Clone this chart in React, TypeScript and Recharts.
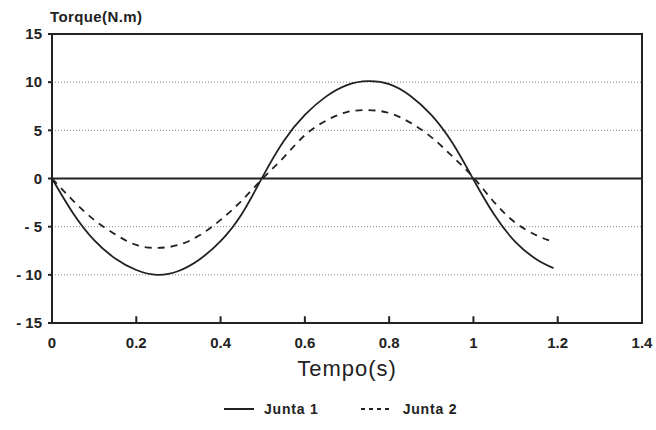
import React from 'react';
import { LineChart, Line, XAxis, YAxis, CartesianGrid, ReferenceLine, ReferenceArea } from 'recharts';

const tempo = [0, 0.05, 0.1, 0.15, 0.2, 0.25, 0.3, 0.35, 0.4, 0.45, 0.5, 0.55, 0.6, 0.65, 0.7, 0.75, 0.8, 0.85, 0.9, 0.95, 1.0, 1.05, 1.1, 1.15, 1.19];
const junta1 = [0, -3.6, -6.4, -8.3, -9.5, -10, -9.6, -8.4, -6.5, -3.7, 0.2, 3.9, 6.6, 8.5, 9.7, 10.1, 9.8, 8.6, 6.6, 3.7, -0.1, -3.8, -6.6, -8.4, -9.3];
const junta2 = [0, -2.3, -4.3, -5.8, -6.9, -7.2, -6.9, -5.9, -4.3, -2.3, 0, 2.2, 4.5, 6.0, 6.9, 7.1, 6.8, 5.8, 4.3, 2.3, 0.1, -2.5, -4.6, -5.9, -6.6];
const xTicks = [0, 0.2, 0.4, 0.6, 0.8, 1, 1.2, 1.4];
const yTicks = [-15, -10, -5, 0, 5, 10, 15];
const innerXTicks = [0.2, 0.4, 0.6, 0.8, 1, 1.2];

const data = tempo.map((t, i) => ({ t, j1: junta1[i], j2: junta2[i] }));

const FONT = '"Liberation Sans", Arial, sans-serif';

const fmtX = (v: number) => String(Math.round(v * 10) / 10);
const fmtY = (v: number) => (v < 0 ? `- ${-v}` : String(v));

export default function App() {
  return (
    <div style={{ position: 'absolute', left: 0, top: 0, width: 656, height: 430, background: '#fff', fontFamily: FONT }}>
      <div style={{ position: 'absolute', left: 50, top: 8, fontSize: 15, fontWeight: 'bold', color: '#222', letterSpacing: 0.4 }}>
        Torque(N.m)
      </div>
      <LineChart width={656} height={430} data={data} margin={{ top: 34, right: 14, left: 0, bottom: 51 }}>
        <CartesianGrid horizontal vertical={false} stroke="#888" strokeDasharray="1 2" />
        <XAxis
          dataKey="t"
          type="number"
          domain={[0, 1.4]}
          ticks={xTicks}
          tickFormatter={fmtX}
          axisLine={{ stroke: '#222', strokeWidth: 2 }}
          tickLine={false}
          tickSize={0}
          tickMargin={14}
          height={56}
          tick={{ fontSize: 15, fontWeight: 'bold', fill: '#222', fontFamily: FONT }}
          label={{ value: 'Tempo(s)', position: 'insideBottom', offset: 3, style: { fontSize: 22, fill: '#222', fontFamily: FONT, letterSpacing: 1 } }}
        />
        <YAxis
          type="number"
          domain={[-15, 15]}
          ticks={yTicks}
          tickFormatter={fmtY}
          width={52}
          axisLine={{ stroke: '#222', strokeWidth: 2 }}
          tickLine={{ stroke: '#222', strokeWidth: 2 }}
          tickSize={4}
          tickMargin={6}
          tick={{ fontSize: 15, fontWeight: 'bold', fill: '#222', fontFamily: FONT }}
        />
        <ReferenceArea x1={0} x2={1.4} y1={-15} y2={15} fill="none" stroke="#222" strokeWidth={2} ifOverflow="visible" />
        <ReferenceLine y={0} stroke="#222" strokeWidth={2} />
        {innerXTicks.map((x) => (
          <ReferenceLine key={x} segment={[{ x, y: -15 }, { x, y: -14.3 }]} stroke="#222" strokeWidth={2} />
        ))}
        <Line type="natural" dataKey="j1" stroke="#222" strokeWidth={1.8} dot={false} isAnimationActive={false} />
        <Line type="natural" dataKey="j2" stroke="#222" strokeWidth={1.8} strokeDasharray="7 6" dot={false} isAnimationActive={false} />
      </LineChart>
      <div style={{ position: 'absolute', left: 224, top: 401, display: 'flex', alignItems: 'center', fontSize: 14, fontWeight: 'bold', color: '#222', letterSpacing: 0.8 }}>
        <svg width={30} height={4} style={{ marginRight: 10 }}>
          <line x1={0} y1={2} x2={30} y2={2} stroke="#222" strokeWidth={2} />
        </svg>
        <span style={{ marginRight: 42 }}>Junta 1</span>
        <svg width={30} height={4} style={{ marginRight: 12 }}>
          <line x1={0} y1={2} x2={30} y2={2} stroke="#222" strokeWidth={2} strokeDasharray="4 4" />
        </svg>
        <span>Junta 2</span>
      </div>
    </div>
  );
}
